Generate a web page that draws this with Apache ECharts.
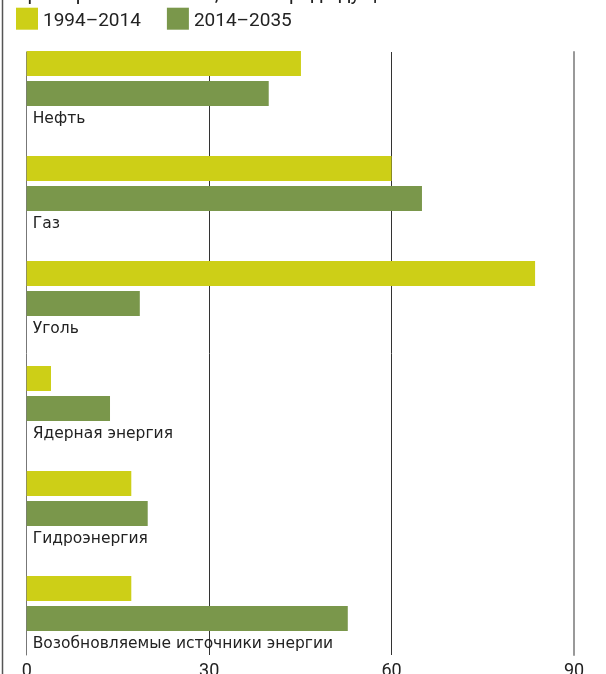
<!DOCTYPE html>
<html>
<head>
<meta charset="utf-8">
<script src="https://cdn.jsdelivr.net/npm/echarts@6/dist/echarts.min.js"></script>
<style>
html,body{margin:0;padding:0;background:#fff;}
#chart{width:606px;height:674px;}
</style>
</head>
<body>
<div id="chart"></div>
<script>
const titleText = 'примерно такими же, как в предыдущие 20 лет.';
const categories = ['Нефть', 'Газ', 'Уголь', 'Ядерная энергия', 'Гидроэнергия', 'Возобновляемые источники энергии'];
const seriesNames = ['1994–2014', '2014–2035'];
const values1994 = [45.1, 60, 83.6, 4, 17.2, 17.2];
const values2014 = [39.8, 65, 18.6, 13.7, 19.9, 52.8];
const xTicks = [0, 30, 60, 90];

const chart = echarts.init(document.getElementById('chart'));
const yellow = '#cdcf17';
const green = '#7a974b';

chart.setOption({
  animation: false,
  backgroundColor: '#fff',
  graphic: [
    { type: 'line', shape: { x1: 2.5, y1: 0, x2: 2.5, y2: 674 }, style: { stroke: '#555', lineWidth: 1.5 } },
    { type: 'text', left: 16, top: -15, style: { text: titleText, font: '20px Roboto', fill: '#222' } }
  ],
  legend: {
    left: 16, top: 7.7, padding: 0,
    itemWidth: 22, itemHeight: 22, itemGap: 26,
    icon: 'rect',
    formatter: '{t|{name}}',
    textStyle: {
      fontFamily: 'Roboto', fontSize: 19, color: '#222',
      rich: { t: { fontFamily: 'Roboto', fontSize: 19, color: '#222', padding: [6, 0, 0, 0] } }
    },
    data: seriesNames
  },
  grid: [
    { left: 26.7, right: 32, top: 26, height: 630, outerBoundsMode: 'none', containLabel: false },
    { left: 26.7, right: 32, top: 52, height: 603, outerBoundsMode: 'none', containLabel: false }
  ],
  xAxis: [
    { gridIndex: 0, type: 'value', min: xTicks[0], max: xTicks[xTicks.length - 1], interval: 30, show: false },
    {
      gridIndex: 1, type: 'value', min: xTicks[0], max: xTicks[xTicks.length - 1], interval: 30,
      axisLine: { show: false }, axisTick: { show: false },
      axisLabel: { margin: 7, fontFamily: 'Roboto', fontSize: 18, color: '#222' },
      splitLine: { show: true, lineStyle: { color: ['transparent', '#333', '#333', 'transparent'], width: 1 } }
    }
  ],
  yAxis: [
    { gridIndex: 0, type: 'category', data: categories, inverse: true, show: false },
    {
      gridIndex: 1, type: 'value', min: 0, max: 1, position: 'left',
      axisLine: { show: true, lineStyle: { color: '#777', width: 1 } },
      axisTick: { show: false }, axisLabel: { show: false }, splitLine: { show: false }
    },
    {
      gridIndex: 1, type: 'value', min: 0, max: 1, position: 'right',
      axisLine: { show: true, lineStyle: { color: '#999', width: 2 } },
      axisTick: { show: false }, axisLabel: { show: false }, splitLine: { show: false }
    }
  ],
  series: [
    {
      name: seriesNames[0], type: 'bar', xAxisIndex: 0, yAxisIndex: 0,
      data: values1994, barWidth: 25, barGap: '20%',
      itemStyle: { color: yellow }
    },
    {
      name: seriesNames[1], type: 'bar', xAxisIndex: 0, yAxisIndex: 0,
      data: values2014, barWidth: 25, barGap: '20%',
      itemStyle: { color: green },
      label: {
        show: true, position: [6, 38], formatter: '{b}',
        align: 'left', verticalAlign: 'middle',
        fontFamily: 'DejaVu Sans', fontSize: 15.5, color: '#222'
      }
    }
  ]
});
</script>
</body>
</html>
